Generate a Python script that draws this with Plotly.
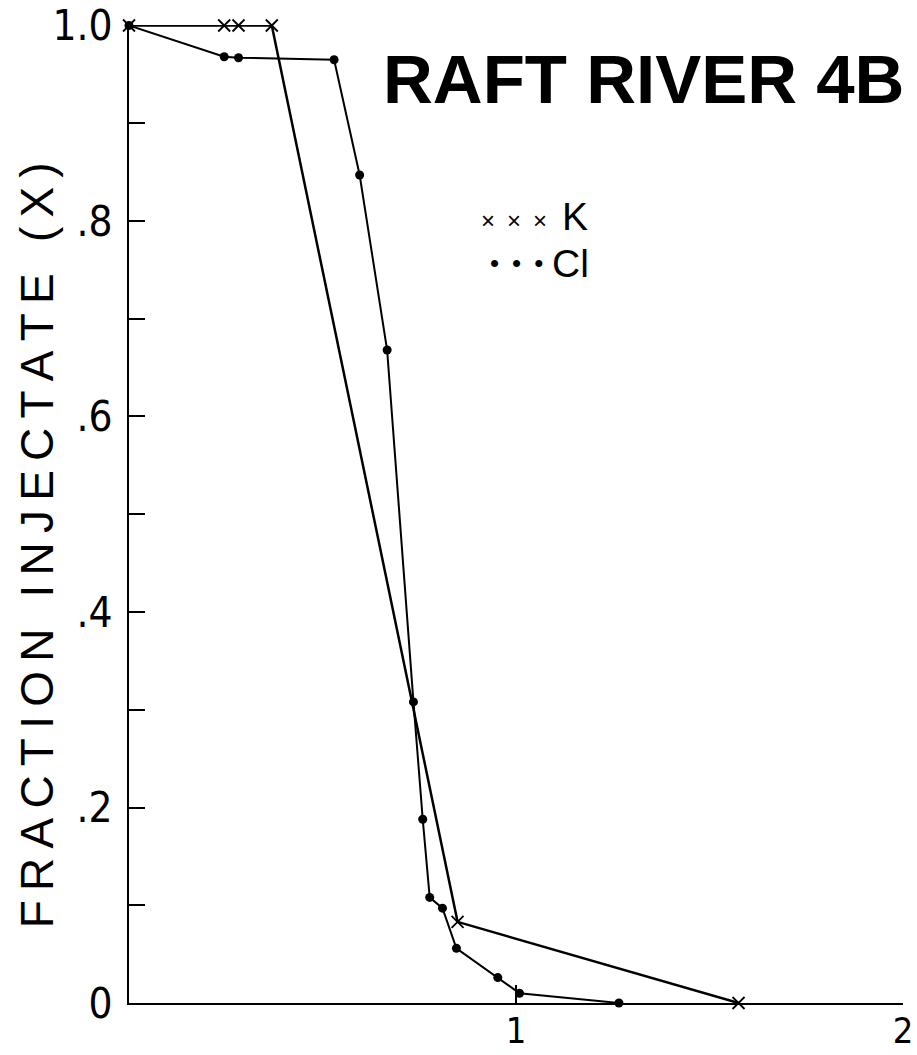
import plotly.graph_objects as go

# Data
cl_x = [0.0, 0.246, 0.283, 0.530, 0.596, 0.667, 0.735, 0.759, 0.777, 0.810, 0.846, 0.953, 1.009, 1.266]
cl_y = [1.0, 0.968, 0.967, 0.965, 0.847, 0.668, 0.308, 0.188, 0.108, 0.097, 0.056, 0.026, 0.010, 0.0]
k_x = [0.0, 0.246, 0.283, 0.369, 0.849, 1.575]
k_y = [1.0, 1.0, 1.0, 1.0, 0.083, 0.0]

y_tickvals = [0.0, 0.1, 0.2, 0.3, 0.4, 0.5, 0.6, 0.7, 0.8, 0.9, 1.0]
y_ticktext = ["0", "", ".2", "", ".4", "", ".6", "", ".8", "", "1.0"]
x_tickvals = [1, 2]
x_ticktext = ["1", "2"]

TICKFAMILY = "Liberation Sans Narrow, DejaVu Sans Condensed, Arial Narrow, sans-serif"
YTICKFONT = dict(family=TICKFAMILY, size=42, color="black")
XTICKFONT = dict(family=TICKFAMILY, size=36, color="black")

fig = go.Figure()
fig.add_trace(go.Scatter(
    x=k_x, y=k_y, mode="lines+markers", cliponaxis=False,
    line=dict(color="black", width=2.5),
    marker=dict(symbol="x-thin-open", size=12, line=dict(color="black", width=1.8)),
    showlegend=False))
fig.add_trace(go.Scatter(
    x=cl_x, y=cl_y, mode="lines+markers", cliponaxis=False,
    line=dict(color="black", width=2),
    marker=dict(symbol="circle", size=9, color="black"),
    showlegend=False))

fig.update_layout(
    width=917, height=1055,
    margin=dict(l=129, r=14, t=25, b=52, autoexpand=False),
    paper_bgcolor="white", plot_bgcolor="white",
    font=dict(family="Liberation Sans, Arial, sans-serif", color="black"),
    xaxis=dict(range=[0, 2], tickvals=x_tickvals, ticktext=x_ticktext,
               ticks="inside", ticklen=18, tickwidth=2, tickcolor="black",
               showline=True, linecolor="black", linewidth=2,
               showgrid=False, zeroline=False, tickfont=XTICKFONT,
               ticklabelstandoff=-5, automargin=False),
    yaxis=dict(range=[0, 1.0005], tickvals=y_tickvals, ticktext=y_ticktext,
               ticks="inside", ticklen=16, tickwidth=2, tickcolor="black",
               showline=True, linecolor="black", linewidth=2,
               showgrid=False, zeroline=False, tickfont=YTICKFONT,
               ticklabelstandoff=6, automargin=False, ticklabeloverflow="allow"),
)

thin = "\u2009"
ytitle = thin.join(list("FRACTION INJECTATE (X)"))
fig.add_annotation(text=ytitle, textangle=-90, xref="paper", yref="paper",
                   x=-0.119, y=0.468, xanchor="center", yanchor="middle",
                   showarrow=False,
                   font=dict(family="Liberation Sans, Arial, sans-serif", size=46, color="black"))
fig.add_annotation(text="<b>RAFT RIVER 4B</b>", xref="paper", yref="paper",
                   x=0.665, y=0.944, xanchor="center", yanchor="middle",
                   showarrow=False,
                   font=dict(family="Liberation Sans, Arial, sans-serif", size=69, color="black"))
# legend
fig.add_annotation(text="×\u2002×\u2002×", xref="paper", yref="paper", x=0.497, y=0.800,
                   xanchor="center", yanchor="middle", showarrow=False,
                   font=dict(family="Liberation Sans, Arial, sans-serif", size=24, color="black"))
fig.add_annotation(text="K", xref="paper", yref="paper", x=0.557, y=0.804,
                   xanchor="left", yanchor="middle", showarrow=False,
                   font=dict(family="Liberation Sans, Arial, sans-serif", size=39, color="black"))
fig.add_annotation(text="•\u2002•\u2002•", xref="paper", yref="paper", x=0.500, y=0.757,
                   xanchor="center", yanchor="middle", showarrow=False,
                   font=dict(family="Liberation Sans, Arial, sans-serif", size=26, color="black"))
fig.add_annotation(text="Cl", xref="paper", yref="paper", x=0.544, y=0.756,
                   xanchor="left", yanchor="middle", showarrow=False,
                   font=dict(family="Liberation Sans, Arial, sans-serif", size=39, color="black"))

fig.write_html("out.html")
